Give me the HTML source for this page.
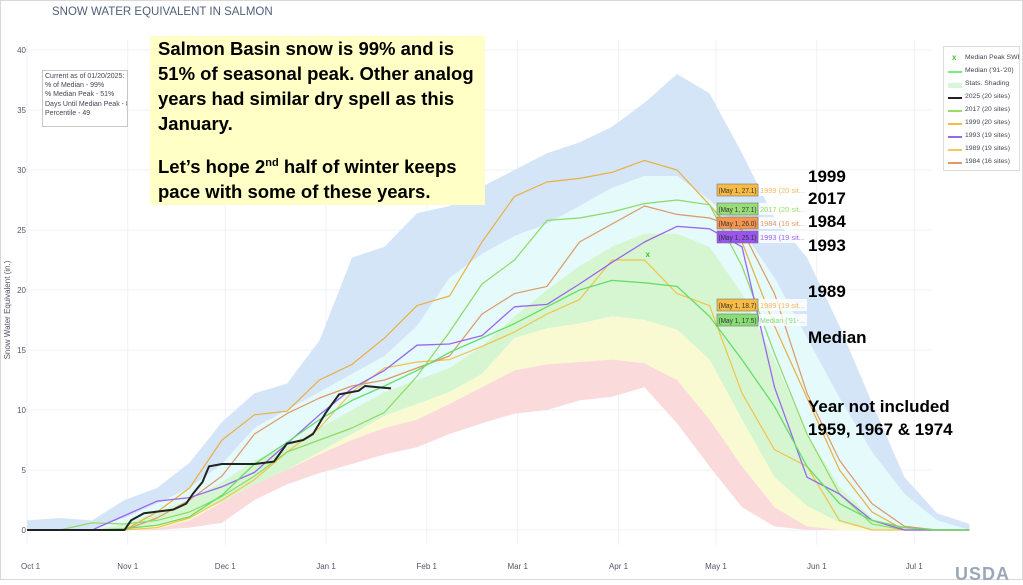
<!DOCTYPE html>
<html><head><meta charset="utf-8">
<style>
html,body{margin:0;padding:0;background:#fff;}
body{width:1023px;height:580px;position:relative;overflow:hidden;font-family:"Liberation Sans",sans-serif;}
#frame{position:absolute;left:0;top:0;width:1021px;height:578px;border:1px solid #d8d8d8;}
.title{position:absolute;left:52px;top:6px;font-size:11.5px;color:#506079;}
.stats{position:absolute;left:42px;top:70px;width:86px;height:57px;border:1px solid #c8c8c8;background:#fff;font-size:7px;line-height:9.2px;color:#445;padding:1px 2px;box-sizing:border-box;white-space:nowrap;overflow:hidden;}
.note{position:absolute;left:150px;top:36px;width:335px;height:169px;background:#ffffc6;font-weight:bold;font-size:18.5px;line-height:25px;color:#000;padding:0 0 0 8px;box-sizing:border-box;}
.note sup{font-size:11px;line-height:0;}
.lbl{position:absolute;left:808px;font-weight:bold;font-size:17px;color:#000;white-space:nowrap;}
.legend{position:absolute;left:943px;top:46px;width:75px;height:123px;border:1px solid #ddd;background:#fff;font-size:6.8px;color:#445;overflow:hidden;}
.li{position:absolute;left:0;height:12px;width:75px;}
.li span.sw{position:absolute;left:4px;top:5px;width:14px;height:2px;}
.li span.t{position:absolute;left:21px;top:1px;white-space:nowrap;}
.usda{position:absolute;left:955px;top:564px;font-size:18px;color:#9aa7b8;font-weight:bold;letter-spacing:1px;}
</style></head><body>
<div id="frame"></div>
<div class="title">SNOW WATER EQUIVALENT IN SALMON</div>
<svg id="chart" width="1023" height="580" style="position:absolute;left:0;top:0"></svg>
<div class="stats">Current as of 01/20/2025:<br>% of Median - 99%<br>% Median Peak - 51%<br>Days Until Median Peak - 82<br>Percentile - 49</div>
<div class="note">Salmon Basin snow is 99% and is<br>51% of seasonal peak. Other analog<br>years had similar dry spell as this<br>January.<br><div style="height:18px"></div>Let’s hope 2<sup>nd</sup> half of winter keeps<br>pace with some of these years.</div>
<div class="lbl" style="top:167px">1999</div>
<div class="lbl" style="top:189px">2017</div>
<div class="lbl" style="top:212px">1984</div>
<div class="lbl" style="top:236px">1993</div>
<div class="lbl" style="top:282px">1989</div>
<div class="lbl" style="top:328px">Median</div>
<div class="lbl" style="top:397px">Year not included</div>
<div class="lbl" style="top:420px">1959, 1967 &amp; 1974</div>
<div class="legend">
 <div class="li" style="top:6px"><span class="t">Median Peak SWE</span><span style="position:absolute;left:8px;top:0px;color:#3c3;font-size:8px;font-weight:bold">x</span></div>
 <div class="li" style="top:19px"><span class="sw" style="background:#77ee77"></span><span class="t">Median ('91-'20)</span></div>
 <div class="li" style="top:32px"><span class="sw" style="background:#d8f6d8;height:5px;top:4px"></span><span class="t">Stats. Shading</span></div>
 <div class="li" style="top:45px"><span class="sw" style="background:#222"></span><span class="t">2025 (20 sites)</span></div>
 <div class="li" style="top:58px"><span class="sw" style="background:#99dd66"></span><span class="t">2017 (20 sites)</span></div>
 <div class="li" style="top:71px"><span class="sw" style="background:#f5bb44"></span><span class="t">1999 (20 sites)</span></div>
 <div class="li" style="top:84px"><span class="sw" style="background:#9966ee"></span><span class="t">1993 (19 sites)</span></div>
 <div class="li" style="top:97px"><span class="sw" style="background:#f8c855"></span><span class="t">1989 (19 sites)</span></div>
 <div class="li" style="top:110px"><span class="sw" style="background:#dd9966"></span><span class="t">1984 (16 sites)</span></div>
</div>
<div class="usda">USDA</div>
<script>
const days = [0,10,20,30,40,50,60,70,80,90,100,110,120,130,140,150,160,170,180,190,200,210,220,230,240,250,260,270,280,290];
const pMax = [0.8,1,0.8,2.5,3.5,5.6,9,11.4,12.2,15.8,22.7,23.6,26.4,27,28.6,30,31.4,32.3,33.6,35.6,38,36.4,31.4,26,22.7,17,10.6,4.4,1.4,0.5];
const p90 = [0,0,0.1,1,2.2,3.5,5.5,8.5,10,11.5,13,14.5,17,21,23,24.5,25.5,27,28.5,29.5,29.5,27.5,25,21,16,11,6.5,3,0.8,0];
const p70 = [0,0,0,0.5,1.5,2.5,4,5.8,7,8.5,10,11.5,12.5,13.5,15.3,17.8,20,22,23.6,24.7,24.7,23.6,19.7,14.2,8,3.6,1,0.2,0,0];
const p50 = [0,0,0,0.1,0.5,1.2,2.3,3.8,5,6.5,8,9.5,10.5,11.5,13,16,16.8,17.2,17.8,17.5,16.7,14.2,9.2,4.4,2,0.6,0,0,0,0];
const p30 = [0,0,0,0,0.1,0.8,2.3,3.8,5,6.3,7.5,8.5,9.2,10.5,11.9,13.3,13.8,14,14.2,13.9,12.5,9.2,5.3,1.9,0.3,0,0,0,0,0];
const p10 = [0,0,0,0,0,0.2,0.6,2.5,3.8,4.75,5.5,6.3,6.9,8,8.9,9.7,10,10.8,11.1,11.9,8.9,5.3,1.9,0.3,0,0,0,0,0,0];
const median = [0,0,0,0.1,0.4,1.1,2.9,5.5,7.3,9.2,10.8,12,13.3,14.8,16,17.2,18.6,20,20.8,20.6,20.3,17.8,14.2,10.3,5.3,2.2,0.8,0.2,0,0];
const y1999 = [0,0,0,0,1.5,3.5,7.5,9.6,9.9,12.5,13.8,16,18.7,19.5,24,27.8,29,29.3,29.8,30.8,30,27.1,24,17,11,5,1.5,0,0,0];
const y2017 = [0,0,0.6,0.5,0.8,1.5,2.8,4.5,6.5,7.5,8.5,9.8,12.8,16.5,20.5,22.5,25.8,26,26.5,27.2,27.5,27.1,22,14.7,8,3,0.5,0,0,0];
const y1984 = [0,0,0,0,1,2.5,4.5,8,9.7,11,12,12.5,13.5,14.5,18,19.7,20.3,24,25.5,27,26.3,26,25,19.7,11.4,5.8,2.2,0.3,0,0];
const y1993 = [0,0,0,1.2,2.4,2.7,3.6,4.8,7.2,9.6,11.8,13.3,15.4,15.5,16.2,18.6,18.8,20.5,22.3,24,25.3,25.1,23.6,11.9,4.4,3,0.8,0,0,0];
const y1989 = [0,0,0,0,0.2,1,2.5,4.2,6.5,8.5,11.5,13.5,14,14.2,15.3,16.5,18,19.2,22.5,22.5,19.7,18.7,11.4,6.7,5.3,0.8,0,0,0,0];
const days2025 = [0,30,32,36,45,49,51,54,56,60,70,76,80,85,88,92,96,102,104,112];
const swe2025 = [0,0,0.8,1.4,1.7,2.2,3,4,5.3,5.5,5.5,5.7,7.2,7.5,8,9.8,11.3,11.6,12,11.8];
const peakDay = [191];
const peakVal = [23];
const yTicks = [0,5,10,15,20,25,30,35,40];
const xTickDays = [0,31,61,92,123,151,182,212,243,273];
const xTickLabels = ["Oct 1","Nov 1","Dec 1","Jan 1","Feb 1","Mar 1","Apr 1","May 1","Jun 1","Jul 1"];
const tagVals = [27.1,27.1,26.0,25.1,18.7,17.5];
const tagNames = ["1999 (20 sit...","2017 (20 sit...","1984 (16 sit...","1993 (19 sit...","1989 (19 sit...","Median ('91-..."];

const X0=27, PXD=3.25, Y0=530, PXU=12;
const xs=d=>X0+d*PXD, ys=v=>Y0-v*PXU;
const svg=document.getElementById('chart');
const NS='http://www.w3.org/2000/svg';
function mk(tag,attrs){const e=document.createElementNS(NS,tag);for(const k in attrs)e.setAttribute(k,attrs[k]);svg.appendChild(e);return e;}

yTicks.forEach(v=>{
  const g=mk('line',{x1:28,x2:932,y1:ys(v),y2:ys(v),stroke:'#eef1f7','stroke-width':1});
  
  
  const t=mk('text',{x:26,y:ys(v)+3,'font-size':8,fill:'#556','text-anchor':'end','font-family':'Liberation Sans, sans-serif'});
  t.textContent=v;
  
  
});
xTickDays.forEach((d,i)=>{
  const g=mk('line',{x1:xs(d),x2:xs(d),y1:40,y2:545,stroke:'#eef1f7','stroke-width':1});
  
  
  const t=mk('text',{x:xs(d)+(i==0?-6:0),y:569,'font-size':8,fill:'#556','text-anchor':i==0?'start':'middle','font-family':'Liberation Sans, sans-serif'});
  t.textContent=xTickLabels[i];
  
  
});
const yl=mk('text',{x:0,y:0,'font-size':8,fill:'#556','text-anchor':'middle',transform:'translate(10,310) rotate(-90)','font-family':'Liberation Sans, sans-serif'});
yl.textContent='Snow Water Equivalent (in.)';



function band(up,lo,fill,name){
  let pts=days.map((d,i)=>xs(d)+','+ys(up[i]));
  pts=pts.concat(days.slice().reverse().map((d,j)=>{const i=days.length-1-j;return xs(d)+','+ys(lo[i]);}));
  const p=mk('polygon',{points:pts.join(' '),fill:fill,stroke:'none'});
  
  
}
band(pMax,p90,'#d5e5f8','band-max-90');
band(p90,p70,'#e4fafb','band-90-70');
band(p70,p50,'#d6f6d2','band-70-50');
band(p50,p30,'#fafad2','band-50-30');
band(p30,p10,'#fadada','band-30-10');

function line(dd,vals,color,w,name){
  const p=mk('polyline',{points:dd.map((d,i)=>xs(d)+','+ys(vals[i])).join(' '),fill:'none',stroke:color,'stroke-width':w,'stroke-linejoin':'round'});
  
  
}
line(days,y1989,'#f3c24a',1.2,'line-1989');
line(days,y1984,'#dd9966',1.2,'line-1984');
line(days,y1999,'#e8b040',1.2,'line-1999');
line(days,y2017,'#8fd964',1.2,'line-2017');
line(days,y1993,'#9966ee',1.3,'line-1993');
line(days,median,'#66dd66',1.3,'line-median');
line(days2025,swe2025,'#222',2,'line-2025');

const pk=mk('text',{x:xs(peakDay[0]),y:ys(peakVal[0])+3,'font-size':8,'font-weight':'bold',fill:'#33cc33','text-anchor':'middle'});
pk.textContent='x';



const tagColors=['#f8bb44','#99dd77','#f59550','#9955ee','#f8bb44','#88dd77'];
const tagText=['#f5b860','#99dd66','#e09966','#9966ee','#f5b860','#77dd77'];
const tagY=[190,209,223,237,305,320];
tagVals.forEach((v,i)=>{
  const x=717,y=tagY[i];
  const bg=mk('rect',{x:759,y:y-6,width:48,height:12,fill:'#fff','fill-opacity':0.8});
  
  
  const r=mk('rect',{x:x,y:y-6,width:41,height:12,fill:tagColors[i],stroke:'#777','stroke-width':0.6});
  
  
  const t=mk('text',{x:x+1.5,y:y+3,'font-size':7,fill:'#333',textLength:38,lengthAdjust:'spacingAndGlyphs'});
  t.textContent='(May  1, '+v.toFixed(1)+')';
  
  
  const n=mk('text',{x:760,y:y+3,'font-size':7,fill:tagText[i],textLength:45,lengthAdjust:'spacingAndGlyphs'});
  n.textContent=tagNames[i];
  
  
});
</script>
</body></html>
